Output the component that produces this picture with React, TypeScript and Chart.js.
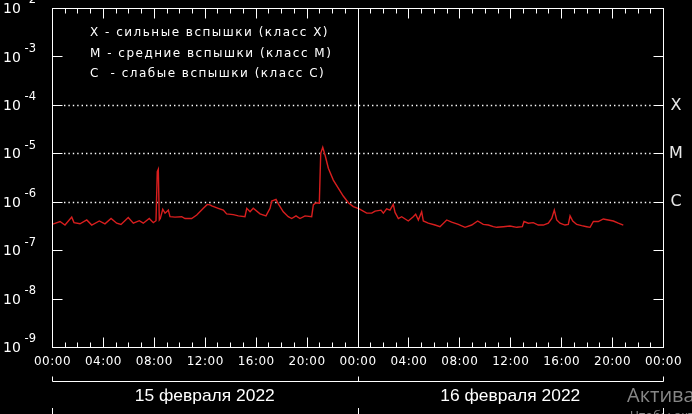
import React, { useEffect, useRef } from "react";
import { Chart, registerables } from "chart.js";

Chart.register(...registerables);

// hours since 15 Feb 2022 00:00 UT
const hours: number[] = [
  0.0, 0.63, 1.02, 1.55, 1.73, 2.2, 2.73, 3.12, 3.72, 4.16, 4.64, 5.08, 5.42, 5.99, 6.39, 6.86, 7.17, 7.64, 7.96,
  8.17, 8.27, 8.35, 8.43, 8.51, 8.7, 8.88, 9.14, 9.27, 9.66, 10.19, 10.45, 10.97, 11.37, 11.89, 12.2, 12.41, 12.55,
  13.06, 13.46, 13.72, 14.24, 14.64, 15.16, 15.3, 15.56, 15.81, 16.34, 16.81, 17.13, 17.26, 17.6, 17.78, 18.17,
  18.56, 18.83, 19.17, 19.48, 19.88, 20.4, 20.53, 20.74, 21.0, 21.11, 21.27, 21.45, 21.71, 22.1, 22.49, 22.88,
  23.28, 23.67, 24.14, 24.72, 25.12, 25.38, 25.85, 26.03, 26.29, 26.55, 26.81, 26.95, 27.21, 27.47, 27.99, 28.38,
  28.57, 28.78, 29.04, 29.17, 29.56, 30.09, 30.48, 31.01, 31.4, 31.92, 32.45, 32.97, 33.44, 33.88, 34.28, 34.67,
  34.94, 35.45, 35.98, 36.51, 36.95, 37.08, 37.42, 37.81, 38.2, 38.6, 38.99, 39.26, 39.46, 39.65, 39.91, 40.3,
  40.56, 40.7, 40.91, 41.22, 41.61, 42.01, 42.27, 42.53, 42.92, 43.31, 43.7, 44.1, 44.49, 44.88,
];

// GOES X-ray flux, W/m^2
const flux: number[] = [
  3.4e-7, 3.9e-7, 3.3e-7, 4.8e-7, 3.7e-7, 3.5e-7, 4.2e-7, 3.3e-7, 4.0e-7, 3.5e-7, 4.5e-7, 3.6e-7, 3.4e-7, 4.7e-7,
  3.6e-7, 4.05e-7, 3.6e-7, 4.5e-7, 3.7e-7,
  4.05e-7, 4.2e-6, 4.7e-6, 4.2e-7, 4.5e-7, 7.0e-7, 5.8e-7, 6.7e-7, 4.9e-7, 4.8e-7, 4.9e-7, 4.5e-7, 4.5e-7, 5.3e-7,
  7.3e-7, 8.8e-7, 8.6e-7, 8.2e-7,
  7.3e-7, 6.7e-7, 5.6e-7, 5.4e-7, 5.1e-7, 4.9e-7, 7.3e-7, 6.2e-7, 7.3e-7, 5.6e-7, 5.1e-7, 7.3e-7, 1.03e-6, 1.12e-6,
  9.0e-7, 6.2e-7,
  4.9e-7, 4.5e-7, 5.1e-7, 4.5e-7, 5.1e-7, 4.9e-7, 8.6e-7, 9.5e-7, 9.3e-7, 1.0e-5, 1.33e-5, 9.2e-6, 4.9e-6, 2.8e-6,
  1.9e-6, 1.31e-6,
  9.5e-7, 7.9e-7, 7.1e-7, 5.8e-7, 5.8e-7, 6.4e-7, 6.7e-7, 5.8e-7, 7.1e-7, 6.7e-7, 8.8e-7, 6.0e-7, 4.5e-7, 4.9e-7,
  4.0e-7, 4.9e-7,
  5.5e-7, 4.2e-7, 6.2e-7, 4.0e-7, 3.6e-7, 3.3e-7, 3.05e-7, 4.2e-7, 3.8e-7, 3.4e-7, 2.96e-7, 3.3e-7, 4.0e-7, 3.4e-7,
  3.3e-7, 3.05e-7,
  2.96e-7, 3.05e-7, 3.15e-7, 2.96e-7, 3.05e-7, 3.9e-7, 3.6e-7, 3.7e-7, 3.3e-7, 3.3e-7, 3.6e-7, 4.5e-7, 6.7e-7,
  4.2e-7, 3.6e-7, 3.3e-7,
  3.4e-7, 5.1e-7, 4.0e-7, 3.4e-7, 3.2e-7, 3.05e-7, 2.96e-7, 3.9e-7, 3.9e-7, 4.4e-7, 4.2e-7, 4.0e-7, 3.6e-7, 3.3e-7,
];

const xTickHours: number[] = [0, 4, 8, 12, 16, 20, 24, 28, 32, 36, 40, 44, 48];
const xTickLabels: string[] = [
  "00:00", "04:00", "08:00", "12:00", "16:00", "20:00", "00:00", "04:00", "08:00", "12:00", "16:00", "20:00", "00:00",
];
const yDecades: number[] = [-2, -3, -4, -5, -6, -7, -8, -9];
const classLevels: number[] = [1e-4, 1e-5, 1e-6];
const classLabels: string[] = ["X", "M", "C"];
const legendLines: string[] = [
  "X - сильные вспышки (класс X)",
  "M - средние вспышки (класс M)",
  "C  - слабые вспышки (класс C)",
];
const dayCenters: number[] = [12, 36];
const dayLabels: string[] = ["15 февраля 2022", "16 февраля 2022"];

const decorPlugin = {
  id: "decor",
  beforeDraw(chart: any) {
    const ctx = chart.ctx;
    ctx.save();
    ctx.fillStyle = "#000";
    ctx.fillRect(0, 0, chart.width, chart.height);
    ctx.restore();
  },
  beforeDatasetsDraw(chart: any) {
    const ctx = chart.ctx;
    const { left, right } = chart.chartArea;
    const ys = chart.scales.y;
    ctx.save();
    ctx.strokeStyle = "#fff";
    ctx.lineWidth = 1.4;
    ctx.setLineDash([1.4, 3]);
    classLevels.forEach((v) => {
      const y = Math.round(ys.getPixelForValue(v)) + 0.5;
      ctx.beginPath();
      ctx.moveTo(left + 12, y);
      ctx.lineTo(right - 10, y);
      ctx.stroke();
    });
    ctx.restore();
  },
  afterDatasetsDraw(chart: any) {
    const ctx = chart.ctx;
    const { left, right, top, bottom } = chart.chartArea;
    const xs = chart.scales.x;
    const ys = chart.scales.y;
    const L = Math.round(left) + 0.5;
    const R = Math.round(right) + 0.5;
    const T = Math.round(top) + 0.5;
    const B = Math.round(bottom) + 0.5;
    ctx.save();
    ctx.strokeStyle = "#fff";
    ctx.lineWidth = 1;
    ctx.setLineDash([]);
    // frame
    ctx.strokeRect(L, T, R - L, B - T);
    // midnight line
    const mx = Math.round(xs.getPixelForValue(24)) + 0.5;
    ctx.beginPath();
    ctx.moveTo(mx, T);
    ctx.lineTo(mx, B);
    ctx.stroke();
    // hourly ticks top and bottom
    for (let h = 1; h < 48; h++) {
      const x = Math.round(xs.getPixelForValue(h)) + 0.5;
      const len = h % 4 === 0 ? 10 : 5;
      ctx.beginPath();
      ctx.moveTo(x, T);
      ctx.lineTo(x, T + len);
      ctx.moveTo(x, B);
      ctx.lineTo(x, B - len);
      ctx.stroke();
    }
    // decade ticks left and right
    yDecades.forEach((d) => {
      const y = Math.round(ys.getPixelForValue(Math.pow(10, d))) + 0.5;
      ctx.beginPath();
      ctx.moveTo(L, y);
      ctx.lineTo(L + 10, y);
      ctx.moveTo(R, y);
      ctx.lineTo(R - 10, y);
      ctx.stroke();
    });

    // y labels 10^n
    ctx.fillStyle = "#fff";
    ctx.textBaseline = "middle";
    ctx.textAlign = "left";
    yDecades.forEach((d) => {
      const y = ys.getPixelForValue(Math.pow(10, d));
      ctx.font = "14px 'DejaVu Sans'";
      ctx.fillText("10", 3, y + 1.5);
      ctx.font = "11.5px 'DejaVu Sans'";
      ctx.fillText(String(d), 24.5, y - 7.5);
    });

    // class labels right
    ctx.fillStyle = "#e8e8e8";
    ctx.textAlign = "center";
    ctx.font = "16px 'DejaVu Sans'";
    classLevels.forEach((v, i) => {
      const y = ys.getPixelForValue(v);
      ctx.fillText(classLabels[i], 676, y + 0.5);
    });

    // legend
    ctx.fillStyle = "#fff";
    ctx.textAlign = "left";
    ctx.font = "12px 'DejaVu Sans'";
    (ctx as any).letterSpacing = "1.5px";
    legendLines.forEach((t, i) => {
      ctx.fillText(t, 90, 33 + i * 20.5);
    });

    // x tick labels
    ctx.textAlign = "center";
    ctx.font = "12px 'DejaVu Sans'";
    (ctx as any).letterSpacing = "0.5px";
    xTickHours.forEach((h, i) => {
      const x = xs.getPixelForValue(h);
      ctx.fillText(xTickLabels[i], x + 0.5, 362);
    });
    (ctx as any).letterSpacing = "0px";

    // day bracket
    const by = 381.5;
    ctx.beginPath();
    ctx.moveTo(L, by);
    ctx.lineTo(R, by);
    [0, 24, 48].forEach((h) => {
      const x = Math.round(xs.getPixelForValue(h)) + 0.5;
      ctx.moveTo(x, by);
      ctx.lineTo(x, by - 5);
      ctx.moveTo(x, 408);
      ctx.lineTo(x, 414);
    });
    ctx.stroke();

    // day labels
    ctx.textBaseline = "alphabetic";
    ctx.font = "17px 'Liberation Sans'";
    dayCenters.forEach((h, i) => {
      const x = xs.getPixelForValue(h);
      const w = ctx.measureText(dayLabels[i]).width;
      const s = 140 / w;
      ctx.save();
      ctx.translate(x, 401);
      ctx.scale(s, 1);
      ctx.textAlign = "center";
      ctx.fillText(dayLabels[i], 0, 0);
      ctx.restore();
    });

    // watermark
    ctx.fillStyle = "#868686";
    ctx.textAlign = "left";
    ctx.font = "20px 'Open Sans'";
    ctx.fillText("Активация Windows", 627, 401.5);
    ctx.font = "13px 'Open Sans'";
    ctx.fillText("Чтобы активировать Windows, перейдите", 630, 420);
    ctx.restore();
  },
};

export default function App() {
  const ref = useRef<HTMLCanvasElement | null>(null);

  useEffect(() => {
    document.body.style.margin = "0";
    document.body.style.background = "#000";
    const canvas = ref.current;
    if (!canvas) return;
    const chart = new Chart(canvas, {
      type: "line",
      data: {
        datasets: [
          {
            data: hours.map((h, i) => ({ x: h, y: flux[i] })),
            borderColor: "#d81e1e",
            borderWidth: 1.4,
            pointRadius: 0,
            tension: 0,
            fill: false,
          },
        ],
      },
      options: {
        animation: false,
        responsive: false,
        devicePixelRatio: 1,
        layout: { padding: { left: 52, right: 29, top: 8, bottom: 67 } },
        plugins: { legend: { display: false }, tooltip: { enabled: false } },
        scales: {
          x: { type: "linear", min: 0, max: 48, display: false },
          y: { type: "logarithmic", min: 1e-9, max: 1e-2, display: false },
        },
      },
      plugins: [decorPlugin],
    });
    return () => chart.destroy();
  }, []);

  return (
    <div style={{ position: "absolute", left: 0, top: 0, width: 692, height: 414, background: "#000", overflow: "hidden" }}>
      <canvas ref={ref} width={692} height={414} style={{ display: "block" }} />
    </div>
  );
}
